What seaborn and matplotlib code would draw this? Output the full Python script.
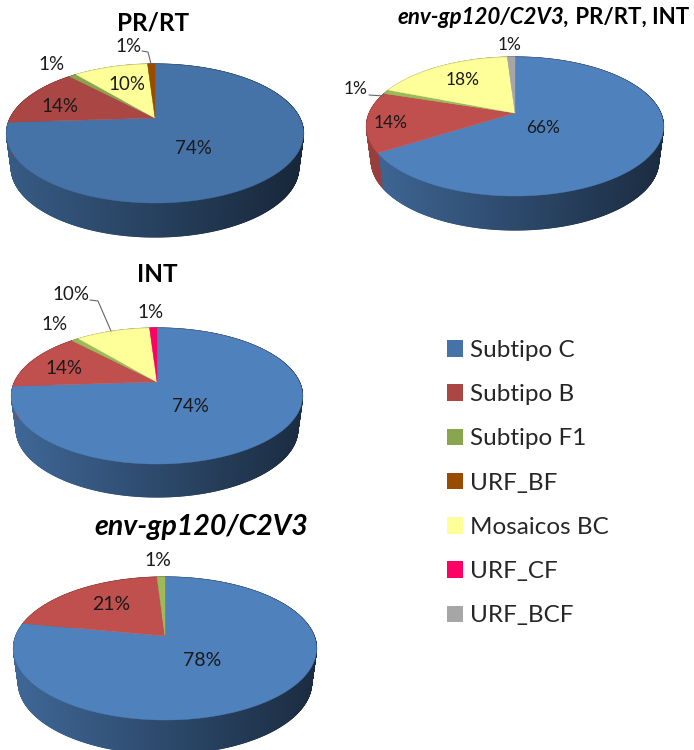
import numpy as np
import matplotlib
matplotlib.use("Agg")
import matplotlib.pyplot as plt
from matplotlib.colors import to_rgb
from matplotlib.patches import Patch, Polygon
from matplotlib.collections import PolyCollection
import seaborn as sns

sns.set_theme(style="white")
plt.rcParams["font.family"] = ["Lato", "DejaVu Sans"]

# ---- data -------------------------------------------------------------
legend_labels = ["Subtipo C", "Subtipo B", "Subtipo F1", "URF_BF",
                 "Mosaicos BC", "URF_CF", "URF_BCF"]

pr_rt_cats = ["Subtipo C", "Subtipo B", "Subtipo F1", "Mosaicos BC", "URF_BF"]
pr_rt_vals = [74, 14, 1, 10, 1]

all_cats = ["Subtipo C", "Subtipo B", "Subtipo F1", "Mosaicos BC", "URF_BCF"]
all_vals = [66, 14, 1, 18, 1]

int_cats = ["Subtipo C", "Subtipo B", "Subtipo F1", "Mosaicos BC", "URF_CF"]
int_vals = [74, 14, 1, 10, 1]

env_cats = ["Subtipo C", "Subtipo B", "Subtipo F1"]
env_vals = [78, 21, 1]

# ---- styles -----------------------------------------------------------
dark_pal = dict(zip(legend_labels, sns.color_palette(
    ["#4572A7", "#AA4643", "#89A54E", "#994C00", "#FFFF99", "#FF0066", "#A6A6A6"])))
light_pal = dict(zip(legend_labels, sns.color_palette(
    ["#4F81BD", "#C0504D", "#9BBB59", "#994C00", "#FFFF99", "#FF0066", "#A6A6A6"])))

fig = plt.figure(figsize=(6.94, 7.5), dpi=100, facecolor="white")
ax = fig.add_axes([0, 0, 1, 1])
TXT = "#1a1a1a"


def draw_pie(cats, vals, pal, apex, left, right, top, bottom, depth):
    cx, cy = apex
    up, down = cy - top, bottom - cy
    k = (down - up) / (down + up)
    a = 2 * up * down / (up + down)
    b = (right - left) / 2 * np.sqrt(1 - k ** 2)

    def project(theta):
        x, y = np.cos(theta), np.sin(theta)
        w = 1 + k * y
        return cx + b * x / w, cy - a * y / w

    # the pie itself gives the slice angles
    wedges, _ = ax.pie(vals, startangle=90, counterclock=False, frame=True)
    spans = [(min(w.theta1, w.theta2), max(w.theta1, w.theta2)) for w in wedges]
    for w in wedges:
        w.remove()

    strips, strip_cols = [], []
    tops = []
    ex_mid = (left + right) / 2
    half = (right - left) / 2
    for cat, (t1, t2) in zip(cats, spans):
        base = np.array(to_rgb(pal[cat]))
        n = max(int(t2 - t1) * 3, 4)
        th = np.radians(np.linspace(t1, t2, n + 1))
        px, py = project(th)
        tops.append((cat, px, py))
        for i in range(n):
            xa, xb = px[i], px[i + 1]
            qx = ex_mid + (np.array([xa, xb]) - ex_mid) * 0.968
            quad = [(xa, py[i]), (xb, py[i + 1]),
                    (qx[1], py[i + 1] + depth), (qx[0], py[i] + depth)]
            xn = ((xa + xb) / 2 - ex_mid) / half
            shade = 0.80 - 0.23 * (xn + 1) if xn < 0.5 else 0.455 - 0.11 * (xn - 0.5) * 2
            strips.append(quad)
            strip_cols.append(tuple(np.clip(base * shade, 0, 1)))
    ax.add_collection(PolyCollection(strips, facecolors=strip_cols,
                                     edgecolors=strip_cols, linewidths=0.8, zorder=2))
    for cat, px, py in tops:
        pts = np.column_stack([np.r_[cx, px], np.r_[cy, py]])
        ax.add_patch(Polygon(pts, closed=True, facecolor=pal[cat],
                             edgecolor=pal[cat], linewidth=0.3, zorder=3))


draw_pie(pr_rt_cats, pr_rt_vals, dark_pal, (155, 118), 6, 303, 64, 203, 34)
draw_pie(all_cats, all_vals, light_pal, (515, 113), 366, 663, 57, 196, 34)
draw_pie(int_cats, int_vals, light_pal, (157, 382), 12, 303, 328, 464, 33)
draw_pie(env_cats, env_vals, light_pal, (165, 636), 13, 316, 577, 720, 34)

ax.set_xlim(0, 694)
ax.set_ylim(750, 0)
ax.set_aspect("auto")
ax.axis("off")

# ---- value labels -----------------------------------------------------
label_spots = [
    (pr_rt_vals, [(193, 148), (60, 106), (52, 64), (127, 84), (129, 46)], 13.5),
    (all_vals, [(543, 128), (391, 123), (356, 89), (463, 80), (510, 45)], 12.5),
    (int_vals, [(190, 406), (64, 369), (55, 325), (71, 295), (151, 313)], 13.5),
    (env_vals, [(202, 661), (111, 605), (158, 560)], 14),
]
for vals, spots, size in label_spots:
    for v, (x, y) in zip(vals, spots):
        ax.text(x, y, f"{v}%", ha="center", va="center", fontsize=size,
                color=TXT, zorder=5)

# leader lines
for xs, ys in [([142, 148, 151], [51, 52, 64]),
               ([369, 384], [95, 96]),
               ([90, 98, 111], [300, 301, 331])]:
    ax.plot(xs, ys, color="#666666", lw=0.8, zorder=4)

# ---- titles -----------------------------------------------------------
ax.text(153, 23, "PR/RT", ha="center", va="center", fontsize=17.5,
        fontweight="bold", color="black")
ax.text(157, 275, "INT", ha="center", va="center", fontsize=17.5,
        fontweight="bold", color="black")
ax.text(201, 527, "env-gp120/C2V3", ha="center", va="center", fontsize=20.5,
        fontweight="bold", fontstyle="italic", color="black")
t = ax.text(398, 17, "env-gp120/C2V3,", ha="left", va="center", fontsize=16,
            fontweight="bold", fontstyle="italic", color="black")
ax.annotate(" PR/RT, INT", xy=(1, 0.5), xycoords=t, ha="left", va="center",
            fontsize=16, fontweight="bold", color="black")

# ---- legend -----------------------------------------------------------
handles = [Patch(facecolor=dark_pal[c], edgecolor="none") for c in legend_labels]
leg = ax.legend(handles, legend_labels, loc="upper left",
                bbox_to_anchor=(447 / 694, 1 - 340 / 750), frameon=False,
                fontsize=17.5, labelspacing=0.955, handlelength=0.66,
                handleheight=0.66, handletextpad=0.3, borderpad=0, borderaxespad=0,
                labelcolor="#262626")

fig.savefig("out.png", dpi=100, facecolor="white")
